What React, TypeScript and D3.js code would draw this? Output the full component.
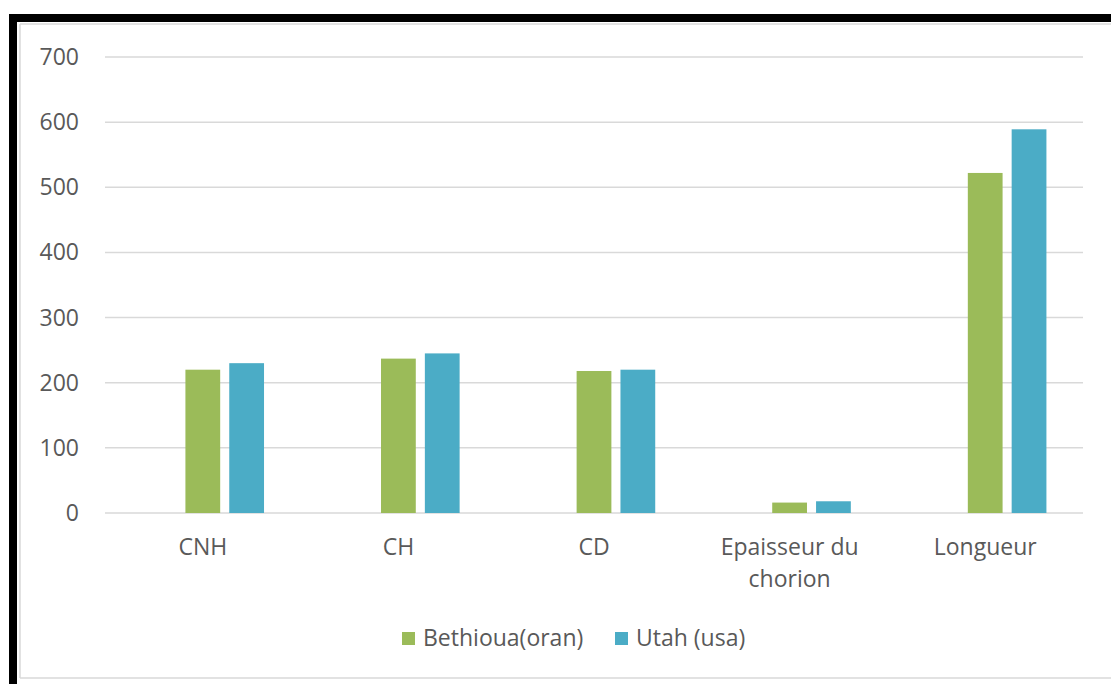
import React from 'react';
import * as d3 from 'd3';

// categories and series
const categories = ['CNH', 'CH', 'CD', 'Epaisseur du\nchorion', 'Longueur'];
const bethioua = [220, 237, 218, 16, 522];
const utah = [230, 245, 220, 18, 589];
const seriesNames = ['Bethioua(oran)', 'Utah (usa)'];
const seriesColors = ['#9BBB59', '#4BACC6'];
const yTicks = [0, 100, 200, 300, 400, 500, 600, 700];

const width = 1111;
const height = 684;
const margin = { left: 105, right: 28, top: 57, bottom: 171 };
const font = '"Open Sans", "Liberation Sans", sans-serif';
const textColor = '#595959';

function App() {
  const x0 = d3.scaleBand()
    .domain(categories)
    .range([margin.left, width - margin.right]);

  const bw = x0.bandwidth();
  // Excel leaves an empty first slot in each group, so bars sit right of the label
  const x1 = d3.scaleBand()
    .domain(['empty', ...seriesNames])
    .range([bw * 0.187, bw * 0.813])
    .paddingInner(0.207);

  const y = d3.scaleLinear()
    .domain([0, 700])
    .range([height - margin.bottom, margin.top]);

  const series = [bethioua, utah];

  return (
    <svg width={width} height={height} style={{ position: 'absolute', left: 0, top: 0 }}>
      <rect x={0} y={0} width={width} height={height} fill="#ffffff" />
      {/* frame */}
      <rect x={9} y={14} width={width - 9} height={8} fill="#000" />
      <rect x={9} y={14} width={8} height={height - 14} fill="#000" />
      <line x1={20} x2={width} y1={24} y2={24} stroke="#d9d9d9" strokeWidth={1.5} />
      <line x1={20} x2={20} y1={24} y2={678} stroke="#d9d9d9" strokeWidth={1.5} />
      <line x1={20} x2={width} y1={678} y2={678} stroke="#d9d9d9" strokeWidth={1.5} />

      {/* grid + y labels */}
      {yTicks.map(t => (
        <g key={t}>
          <line x1={margin.left} x2={width - margin.right} y1={y(t)} y2={y(t)}
            stroke="#d9d9d9" strokeWidth={1.5} />
          <text x={79} y={y(t)} dy="0.35em" textAnchor="end" fontFamily={font}
            fontSize={23} fill={textColor}>{t}</text>
        </g>
      ))}

      {/* bars */}
      {series.map((vals, si) => (
        <g key={seriesNames[si]}>
          {vals.map((v, i) => (
            <rect key={i}
              x={x0(categories[i])! + x1(seriesNames[si])!}
              y={y(v)}
              width={x1.bandwidth()}
              height={y(0) - y(v)}
              fill={seriesColors[si]} />
          ))}
        </g>
      ))}

      {/* x labels */}
      {categories.map(c => (
        <text key={c} x={x0(c)! + bw / 2} y={555} textAnchor="middle" fontFamily={font}
          fontSize={23} fill={textColor}>
          {c.split('\n').map((line, li) => (
            <tspan key={li} x={x0(c)! + bw / 2} dy={li === 0 ? 0 : 32}>{line}</tspan>
          ))}
        </text>
      ))}

      {/* legend */}
      {[402, 615].map((lx, si) => (
        <g key={si}>
          <rect x={lx} y={632} width={13} height={13} fill={seriesColors[si]} />
          <text x={lx + 21} y={646} fontFamily={font} fontSize={23} fill={textColor}>
            {seriesNames[si]}
          </text>
        </g>
      ))}
    </svg>
  );
}

export default App;
